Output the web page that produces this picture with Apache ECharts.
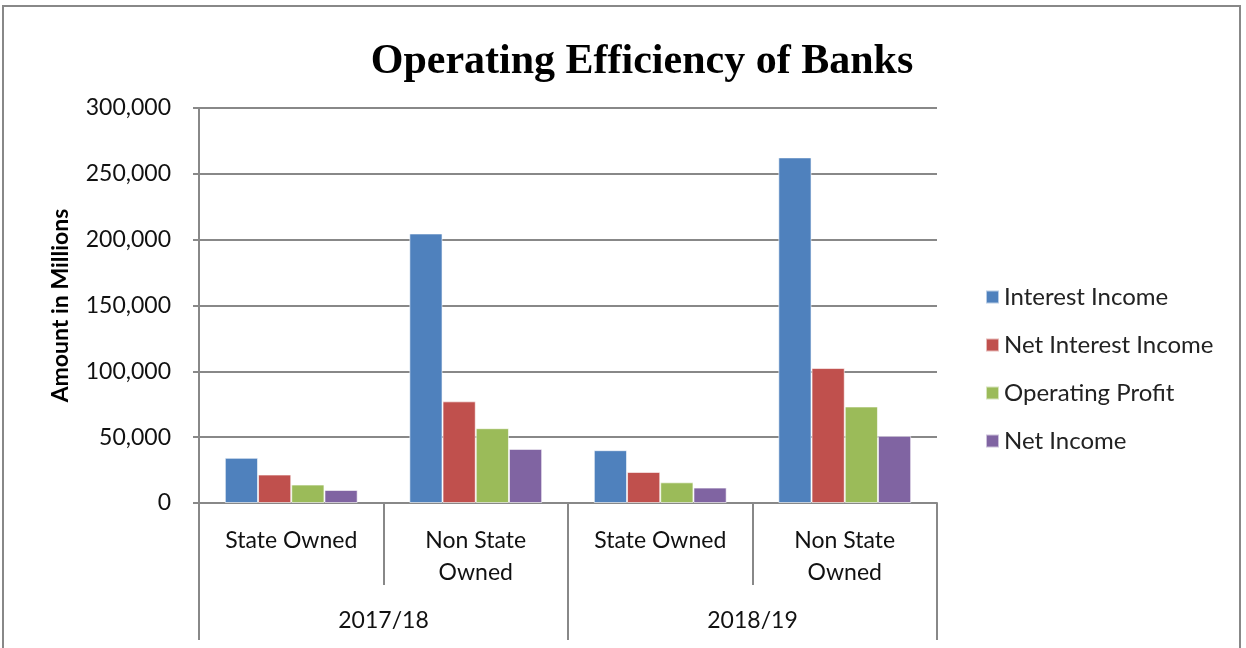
<!DOCTYPE html>
<html><head><meta charset="utf-8">
<script src="https://cdn.jsdelivr.net/npm/echarts@6/dist/echarts.min.js"></script>
<style>html,body{margin:0;padding:0;background:#fff}#c{width:1246px;height:648px}</style>
</head><body><div id="c"></div>
<script>
const subCategories = ['State Owned', 'Non State\nOwned', 'State Owned', 'Non State\nOwned'];
const years = ['2017/18', '2018/19'];
const seriesNames = ['Interest Income', 'Net Interest Income', 'Operating Profit', 'Net Income'];
const interestIncome = [34300, 204700, 40100, 262500];
const netInterestIncome = [21600, 77200, 23600, 102500];
const operatingProfit = [14000, 56800, 15700, 73300];
const netIncome = [9900, 41100, 11700, 51000];
const yTicks = [0, 50000, 100000, 150000, 200000, 250000, 300000];
const colors = ['#4F81BD', '#C0504D', '#9BBB59', '#8064A2'];

const seriesData = [interestIncome, netInterestIncome, operatingProfit, netIncome];
const font = 'Lato, "Liberation Sans", sans-serif';
const chart = echarts.init(document.getElementById('c'), null, {renderer: 'canvas'});
chart.setOption({
  animation: false,
  color: colors,
  title: {
    text: 'Operating Efficiency of Banks', left: 637, top: 36, textAlign: 'center',
    textStyle: {fontFamily: '"Liberation Serif", "Times New Roman", serif', fontWeight: 'bold', fontSize: 42, color: '#000'}
  },
  graphic: [{type: 'rect', shape: {x: 3, y: 6, width: 1237, height: 660}, style: {fill: 'none', stroke: '#888', lineWidth: 2}, silent: true}],
  legend: {
    orient: 'vertical', left: 980, top: 280, itemGap: 24, itemWidth: 13, itemHeight: 13,
    icon: 'rect', data: seriesNames,
    textStyle: {fontFamily: font, fontSize: 24, color: '#222', lineHeight: 24}
  },
  grid: {left: 199, right: 309, top: 108, bottom: 145, containLabel: false},
  xAxis: [
    {type: 'category', data: subCategories, position: 'bottom',
     axisLine: {show: true, lineStyle: {color: '#888', width: 2}},
     axisTick: {show: true, length: 82, lineStyle: {color: '#888', width: 2}},
     axisLabel: {show: true, interval: 0, margin: 22, fontFamily: font, fontSize: 23, color: '#111', lineHeight: 32}},
    {type: 'category', data: years, position: 'bottom',
     axisLine: {show: false},
     axisTick: {show: true, length: 137, lineStyle: {color: '#888', width: 2}},
     axisLabel: {show: true, interval: 0, margin: 106, fontFamily: font, fontSize: 23, color: '#111'}}
  ],
  yAxis: {
    type: 'value', min: 0, max: 300000, interval: 50000,
    name: 'Amount in Millions', nameLocation: 'middle', nameGap: 127, nameRotate: 90,
    nameTextStyle: {fontFamily: font, fontWeight: 'bold', fontSize: 23, color: '#000'},
    axisLine: {show: true, lineStyle: {color: '#888', width: 2}},
    axisTick: {show: true, length: 6, lineStyle: {color: '#888', width: 2}},
    splitLine: {show: true, lineStyle: {color: '#888', width: 2}},
    axisLabel: {margin: 28, fontFamily: font, fontSize: 23, color: '#111',
      formatter: v => yTicks.includes(v) ? v.toLocaleString('en-US') : ''}
  },
  series: seriesNames.map((n, i) => ({
    name: n, type: 'bar', xAxisIndex: 0, data: seriesData[i],
    barGap: '0%', barCategoryGap: '28%',
    itemStyle: {color: colors[i], borderColor: 'rgba(255,255,255,0.6)', borderWidth: 1}
  }))
});
</script></body></html>
